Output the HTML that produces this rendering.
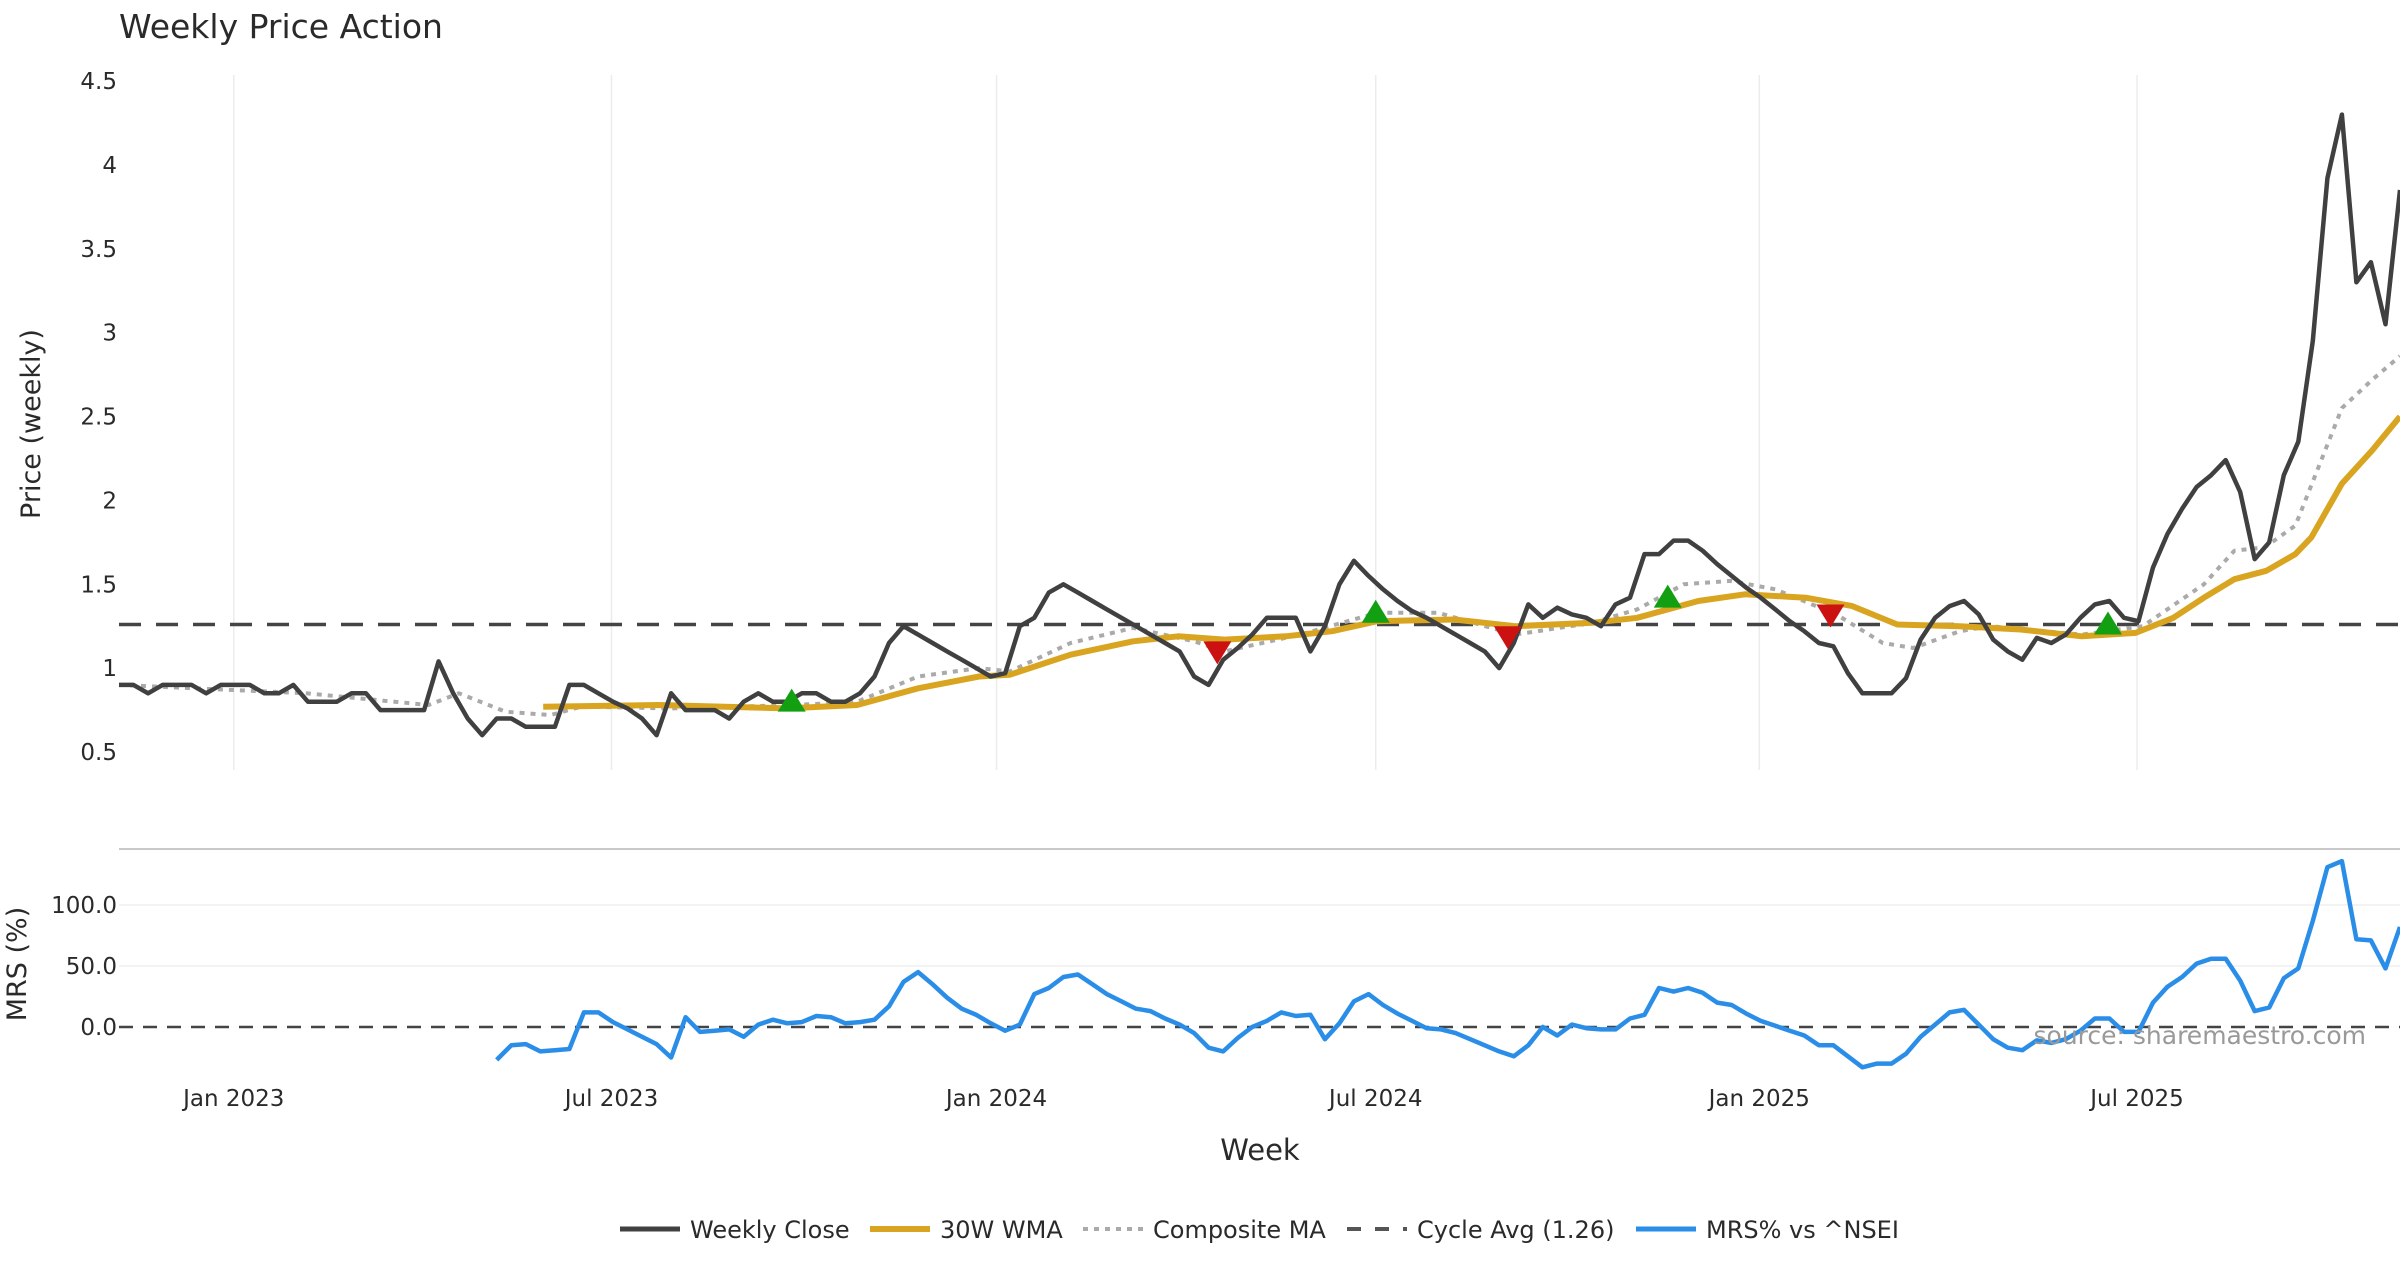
<!DOCTYPE html>
<html><head><meta charset="utf-8">
<style>
html,body{margin:0;padding:0;background:#fff;}
body{width:2400px;height:1260px;overflow:hidden;font-family:"DejaVu Sans","Liberation Sans",sans-serif;}
svg text{font-family:"DejaVu Sans","Liberation Sans",sans-serif;}
</style></head>
<body>
<svg id="chart" width="2400" height="1260" xmlns="http://www.w3.org/2000/svg">
<text x="119" y="38" font-size="33" fill="#2a2a2a">Weekly Price Action</text>
<text transform="translate(40,424) rotate(-90)" text-anchor="middle" font-size="27" fill="#2a2a2a">Price (weekly)</text>
<text transform="translate(26,964) rotate(-90)" text-anchor="middle" font-size="27" fill="#2a2a2a">MRS (%)</text>
<text x="1260" y="1160" text-anchor="middle" font-size="29" fill="#2a2a2a">Week</text>
<line x1="119" x2="2400" y1="849" y2="849" stroke="#c8c8c8" stroke-width="2"/>
<g id="grid"></g>
<g id="series"></g>
<text x="2366" y="1044" text-anchor="end" font-size="25" fill="#999">source: sharemaestro.com</text>
<g id="legend"></g>
</svg>
<script>
const closeVals=[0.9,0.9,0.85,0.9,0.9,0.9,0.85,0.9,0.9,0.9,
0.85,0.85,0.9,0.8,0.8,0.8,0.85,0.85,0.75,0.75,
0.75,0.75,1.04,0.85,0.7,0.6,0.7,0.7,0.65,0.65,
0.65,0.9,0.9,0.85,0.8,0.76,0.7,0.6,0.85,
0.75,0.75,0.75,0.7,0.8,0.85,0.8,0.8,0.85,
0.85,0.8,0.8,0.85,0.95,1.15,1.25,1.2,1.15,
1.1,1.05,1.0,0.95,0.97,1.25,1.3,1.45,1.5,
1.45,1.4,1.35,1.3,1.25,1.2,1.15,1.1,0.95,
0.9,1.05,1.12,1.2,1.3,1.3,1.3,1.1,1.25,
1.5,1.64,1.55,1.47,1.4,1.34,1.3,1.25,1.2,
1.15,1.1,1.0,1.15,1.38,
1.3,1.36,1.32,1.3,1.25,1.38,1.42,1.68,1.68,
1.76,1.76,1.7,1.62,1.55,1.48,1.42,1.35,1.28,
1.22,1.15,1.13,0.97,0.85,0.85,0.85,0.94,1.17,
1.3,1.37,1.4,1.32,1.17,1.1,1.05,1.18,1.15,
1.2,1.3,1.38,1.4,1.3,1.28,1.6,1.8,1.95,
2.08,2.15,2.24,2.05,1.65,1.75,2.15,2.35,2.95,
3.92,4.3,3.3,3.42,3.05,3.85];
const wmaWeeks=[29.2,37.1,46.0,50.8,55.0,59.2,61.3,65.5,69.8,72.9,76.1,80.3,83.5,86.6,91.9,96.1,101.4,104.5,108.7,111.9,116.1,119.3,122.4,126.7,130.9,135.1,138.8,141.4,143.5,145.6,147.8,149.8,150.9,153.0,155.1,157];
const wmaVals=[0.77,0.78,0.76,0.78,0.88,0.95,0.96,1.08,1.16,1.19,1.17,1.19,1.22,1.28,1.29,1.25,1.27,1.3,1.4,1.44,1.42,1.37,1.26,1.25,1.23,1.19,1.21,1.3,1.42,1.53,1.58,1.68,1.78,2.1,2.3,2.5];
const compWeeks=[0,12.9,21.3,23.4,26.6,29.7,31.8,38.1,46.6,50.8,55,59.2,61.3,65.5,69.8,74,76.1,81.3,86.6,90.8,96.1,101.4,104.5,107.7,110.9,114,118.2,121.4,123.5,126.7,128.8,135.1,139.3,143.5,145.6,147.7,149.8,153,155.1,157];
const compVals=[0.9,0.85,0.78,0.85,0.74,0.72,0.77,0.76,0.78,0.8,0.95,1.0,0.98,1.15,1.24,1.16,1.1,1.2,1.33,1.33,1.2,1.27,1.35,1.5,1.52,1.47,1.32,1.15,1.12,1.22,1.25,1.2,1.25,1.5,1.7,1.72,1.85,2.55,2.72,2.86];
const mrsVals=[-27,-15,-14,-20,-19,-18,12,12,4,-2,-8,-14,-25,8,-4,-3,-2,-8,2,6,3,4,9,8,3,4,6,17,37,45,35,24,15,10,3,-3,2,27,32,41,43,35,27,21,15,13,7,2,-5,-17,-20,-9,0,5,12,9,10,-10,3,21,27,18,11,5,-1,-2,-5,-10,-15,-20,-24,-15,0,-7,2,-1,-2,-2,7,10,32,29,32,28,20,18,11,5,1,-3,-7,-15,-15,-24,-33,-30,-30,-22,-8,2,12,14,2,-10,-17,-19,-11,-13,-10,-3,7,7,-4,-4,20,33,41,52,56,56,38,13,16,40,48,87,131,136,72,71,48,82];
const buyWeeks=[46.3,86.5,106.6,136.9];
const buyVals=[0.8,1.33,1.42,1.26];
const sellWeeks=[75.6,95.6,117.8];
const sellVals=[1.1,1.19,1.32];
const cycleAvg=1.26;
const priceTicks=[0.5,1,1.5,2,2.5,3,3.5,4,4.5];
const priceTickLabels=["0.5","1","1.5","2","2.5","3","3.5","4","4.5"];
const mrsTicks=[0,50,100];
const mrsTickLabels=["0.0","50.0","100.0"];
const dateTickWeeks=[7.9,33.9,60.4,86.5,112.9,138.9];
const dateTickLabels=["Jan 2023","Jul 2023","Jan 2024","Jul 2024","Jan 2025","Jul 2025"];

const NS="http://www.w3.org/2000/svg";
const X0=119,X1=2400,N=closeVals.length;
const xs=w=>X0+(X1-X0)*w/(N-1);
const yp=v=>752-(v-0.5)*(752-81)/4;
const ym=v=>1027-v*(1027-905)/100;
function mk(tag,attrs,parent){const e=document.createElementNS(NS,tag);for(const k in attrs)e.setAttribute(k,attrs[k]);parent.appendChild(e);return e;}
const grid=document.getElementById('grid'),ser=document.getElementById('series');
dateTickWeeks.forEach((w,i)=>{
  const l=mk('line',{x1:xs(w),x2:xs(w),y1:75,y2:770,stroke:'#ececec','stroke-width':1.5},grid);
  
  
  const t=mk('text',{x:xs(w),y:1106,'text-anchor':'middle','font-size':23,fill:'#2a2a2a'},grid);
  t.textContent=dateTickLabels[i];
  
  
});
priceTicks.forEach((v,i)=>{
  const t=mk('text',{x:117,y:yp(v)+8,'text-anchor':'end','font-size':23,fill:'#2a2a2a'},grid);
  t.textContent=priceTickLabels[i];
  
  
});
mrsTicks.forEach((v,i)=>{
  if(v!==0){const l=mk('line',{x1:X0,x2:X1,y1:ym(v),y2:ym(v),stroke:'#efefef','stroke-width':1.5},grid);
  
  }
  const t=mk('text',{x:117,y:ym(v)+8,'text-anchor':'end','font-size':23,fill:'#2a2a2a'},grid);
  t.textContent=mrsTickLabels[i];
  
  
});
function poly(pts,attrs,name){const p=mk('polyline',Object.assign({points:pts.map(q=>q[0].toFixed(1)+','+q[1].toFixed(1)).join(' '),fill:'none','stroke-linejoin':'round'},attrs),ser);
  
  return p;}
const cy=mk('line',{x1:X0,x2:X1,y1:yp(cycleAvg),y2:yp(cycleAvg),stroke:'#444','stroke-width':3.5,'stroke-dasharray':'22,15'},ser);


const z=mk('line',{x1:X0,x2:X1,y1:ym(0),y2:ym(0),stroke:'#444','stroke-width':2.5,'stroke-dasharray':'14,10'},ser);


poly(compWeeks.map((w,i)=>[xs(w),yp(compVals[i])]),{stroke:'#aaa','stroke-width':4,'stroke-dasharray':'5,6'},'composite-ma-line');
poly(wmaWeeks.map((w,i)=>[xs(w),yp(wmaVals[i])]),{stroke:'#d9a520','stroke-width':6},'wma-30w-line');
poly(closeVals.map((v,i)=>[xs(i),yp(v)]),{stroke:'#404040','stroke-width':4.5},'weekly-close-line');
const mStart=N-mrsVals.length;
poly(mrsVals.map((v,i)=>[xs(mStart+i),ym(v)]),{stroke:'#2a8ee8','stroke-width':4.5},'mrs-line');
buyWeeks.forEach((w,i)=>{const x=xs(w),y=yp(buyVals[i]);
  const p=mk('polygon',{points:`${x-14},${y+10} ${x+14},${y+10} ${x},${y-13}`,fill:'#12a012'},ser);
  
  });
sellWeeks.forEach((w,i)=>{const x=xs(w),y=yp(sellVals[i]);
  const p=mk('polygon',{points:`${x-14},${y-10} ${x+14},${y-10} ${x},${y+13}`,fill:'#cc1111'},ser);
  
  });
const lg=document.getElementById('legend');
const items=[['Weekly Close','#404040',null,5,620,'legend-weekly-close'],['30W WMA','#d9a520',null,6,870,'legend-wma'],['Composite MA','#aaa','5,6',4,1083,'legend-composite-ma'],['Cycle Avg (1.26)','#555','14,14',4,1347,'legend-cycle-avg'],['MRS% vs ^NSEI','#2a8ee8',null,5,1636,'legend-mrs']];
items.forEach(it=>{const g=mk('g',{},lg);
  
  
  const a={x1:it[4],x2:it[4]+60,y1:1229,y2:1229,stroke:it[1],'stroke-width':it[3]};if(it[2])a['stroke-dasharray']=it[2];
  mk('line',a,g);
  const t=mk('text',{x:it[4]+70,y:1238,'font-size':24,fill:'#2a2a2a'},g);t.textContent=it[0];});
</script>
</body></html>
